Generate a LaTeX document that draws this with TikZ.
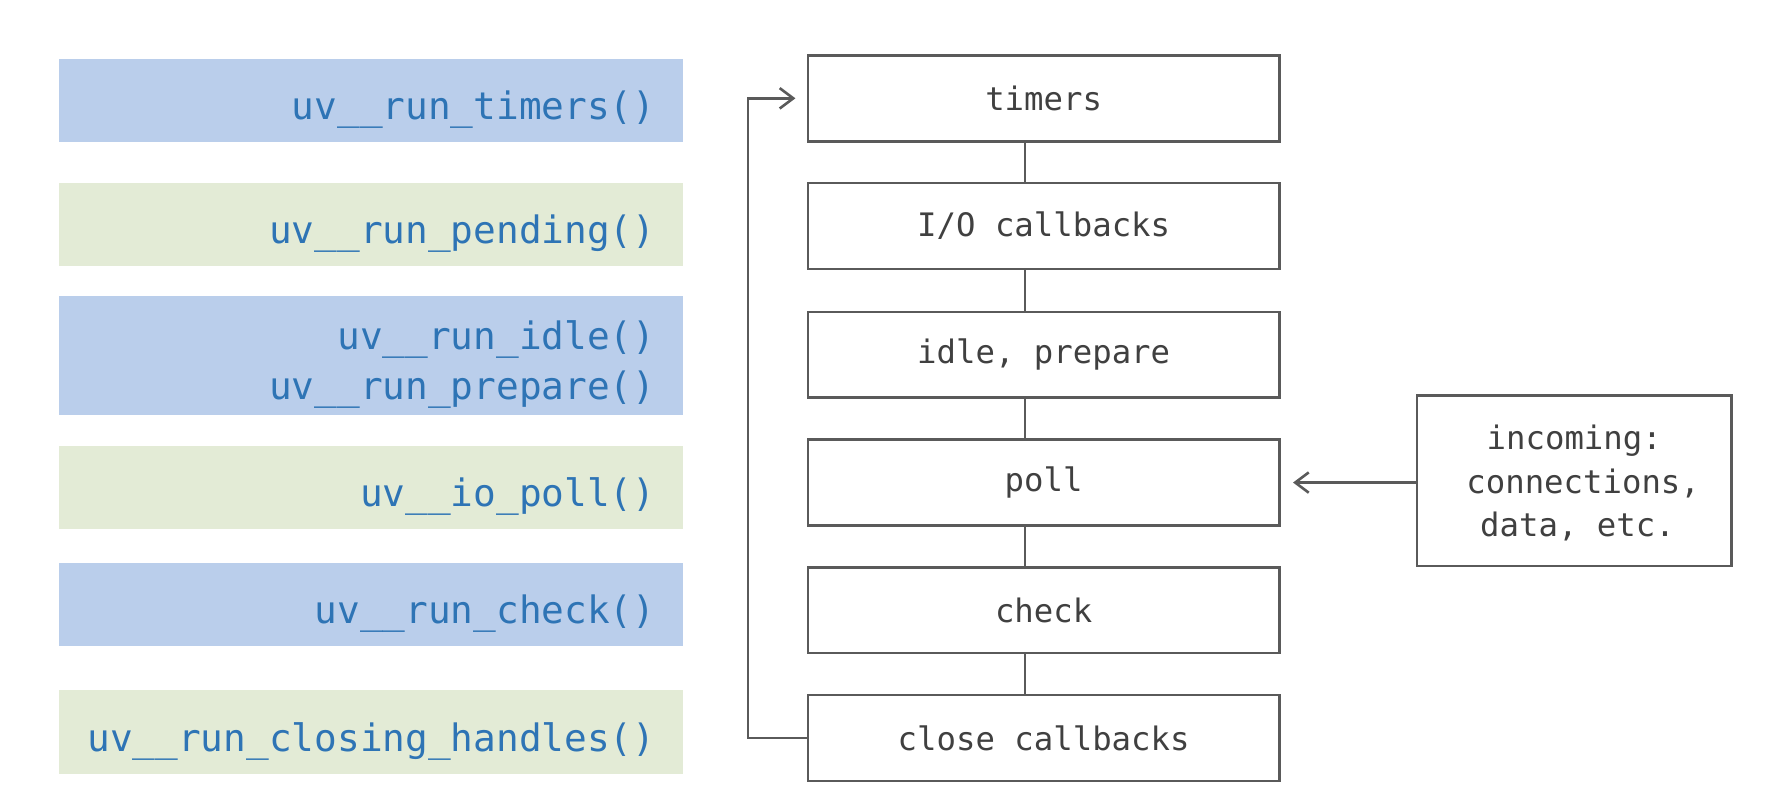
\documentclass[tikz,border=0pt]{standalone}
\usepackage{fontspec}
\setmonofont{DejaVu Sans Mono}
\usetikzlibrary{arrows.meta}
\definecolor{lblue}{HTML}{BACEEB}
\definecolor{lgreen}{HTML}{E3EBD6}
\definecolor{fblue}{HTML}{2E74B5}
\definecolor{lgray}{HTML}{5A5A5A}
\definecolor{tgray}{HTML}{404040}
\newcommand{\fnl}[1]{\raisebox{-3.4pt}[12pt][2pt]{#1}}
\newcommand{\phl}[1]{\raisebox{-1.5pt}[10pt][2pt]{#1}}
\begin{document}
\begin{tikzpicture}[x=0.5pt,y=-0.5pt,
  fnbox/.style={rectangle, draw=none, minimum width=276pt, minimum height=37pt,
    text width=252pt, inner xsep=12pt, inner ysep=0pt, align=right,
    font=\fontsize{16.7}{22}\selectfont\ttfamily, text=fblue},
  bluebox/.style={fnbox, fill=lblue},
  greenbox/.style={fnbox, fill=lgreen},
  phase/.style={rectangle, draw=lgray, line width=1.15pt, minimum width=208.5pt,
    minimum height=38pt, inner sep=0pt, align=center,
    font=\fontsize{14.3}{19.25}\selectfont\ttfamily, text=tgray},
  conn/.style={draw=lgray, line width=1.15pt},
  arr/.style={conn, -{Straight Barb[length=6pt,width=9pt,line width=1.15pt]}}
]
\useasboundingbox (0,0) rectangle (1568,715);

% left column
\node[bluebox]  (f1) at (328,89)    {\fnl{uv\_\_run\_timers()}};
\node[greenbox] (f2) at (328,198.5) {\fnl{uv\_\_run\_pending()}};
\node[bluebox, minimum height=52.5pt] (f3) at (328,314.5) {\fnl{uv\_\_run\_idle()}\\\fnl{uv\_\_run\_prepare()}};
\node[greenbox] (f4) at (328,431.5) {\fnl{uv\_\_io\_poll()}};
\node[bluebox]  (f5) at (328,535)   {\fnl{uv\_\_run\_check()}};
\node[greenbox] (f6) at (328,648)   {\fnl{uv\_\_run\_closing\_handles()}};

% right column
\node[phase] (timers) at (923.5,87)  {timers};
\node[phase] (io)     at (923.5,200) {I/O callbacks};
\node[phase] (idle)   at (923.5,314) {idle, prepare};
\node[phase] (poll)   at (923.5,427) {poll};
\node[phase] (check)  at (923.5,540) {check};
\node[phase] (close)  at (923.5,653) {close callbacks};

\node[phase, minimum width=139pt, minimum height=75.5pt] (inc) at (1393,425.5)
  {\phl{incoming:}\\\phl{\hspace*{0.55em}connections,}\\\phl{\hspace*{0.2em}data, etc.}};

\coordinate (cx) at (907,0);
\coordinate (lx) at (662,0);

\draw[conn] (timers.south -| cx) -- (io.north -| cx);
\draw[conn] (io.south -| cx) -- (idle.north -| cx);
\draw[conn] (idle.south -| cx) -- (poll.north -| cx);
\draw[conn] (poll.south -| cx) -- (check.north -| cx);
\draw[conn] (check.south -| cx) -- (close.north -| cx);

\draw[arr, shorten >=5pt] (close.west) -- (close.west -| lx) -- (timers.west -| lx) -- (timers.west);
\draw[arr, shorten >=5.5pt] (poll.east -| inc.west) -- (poll.east);
\end{tikzpicture}
\end{document}
